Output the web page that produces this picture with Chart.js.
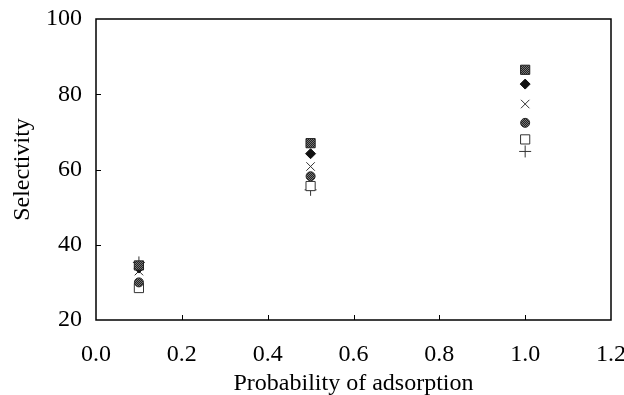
<!DOCTYPE html>
<html>
<head>
<meta charset="utf-8">
<script src="https://cdn.jsdelivr.net/npm/chart.js@4"></script>
<style>
  html, body { margin: 0; padding: 0; background: #fff; }
  #wrap { width: 624px; height: 395px; }
</style>
</head>
<body>
<div id="wrap"><canvas id="chart" width="624" height="395"></canvas></div>
<script>
// Probability of adsorption (x) vs selectivity (y), six marker series.
var xValues = [0.1, 0.5, 1.0];
var filledSquare = [34.5, 67.0, 86.5];
var diamond = [33.8, 64.2, 82.7];
var crossX = [33.0, 60.8, 77.4];
var filledCircle = [30.0, 58.2, 72.4];
var openSquare = [28.5, 55.6, 68.0];
var plusSign = [35.3, 54.6, 64.8];

var xTicks = [0.0, 0.2, 0.4, 0.6, 0.8, 1.0, 1.2];
var yTicks = [20, 40, 60, 80, 100];

var serif = "'Liberation Serif', 'DejaVu Serif', serif";

function pts(ys) {
    return xValues.map(function (x, i) { return { x: x, y: ys[i] }; });
}

// Stippled dark fill, like the scanned markers.
function stipple() {
    var c = document.createElement('canvas');
    c.width = 2; c.height = 2;
    var g = c.getContext('2d');
    g.fillStyle = '#222'; g.fillRect(0, 0, 2, 2);
    g.fillStyle = '#777'; g.fillRect(0, 0, 1, 1); g.fillRect(1, 1, 1, 1);
    return g.createPattern(c, 'repeat');
}
var dots = stipple();

// Frame around the plot area plus inward tick marks.
var frame = {
    id: 'frame',
    afterDraw: function (chart) {
        var ctx = chart.ctx, a = chart.chartArea;
        var xs = chart.scales.x, ys = chart.scales.y;
        ctx.save();
        ctx.strokeStyle = '#000';
        ctx.lineWidth = 1.5;
        ctx.strokeRect(a.left, a.top, a.right - a.left, a.bottom - a.top);
        ctx.lineWidth = 1;
        ctx.beginPath();
        xTicks.slice(1, -1).forEach(function (v) {
            var px = Math.round(xs.getPixelForValue(v)) + 0.5;
            ctx.moveTo(px, a.bottom);
            ctx.lineTo(px, a.bottom - 5);
        });
        yTicks.slice(1, -1).forEach(function (v) {
            var py = Math.round(ys.getPixelForValue(v)) + 0.5;
            ctx.moveTo(a.left, py);
            ctx.lineTo(a.left + 5, py);
        });
        ctx.stroke();
        ctx.restore();
    }
};

var common = { showLine: false, borderWidth: 1 };

new Chart(document.getElementById('chart'), {
    type: 'scatter',
    data: {
        datasets: [
            Object.assign({ data: pts(filledSquare), pointStyle: 'rect', pointRadius: 6.5, backgroundColor: dots, borderColor: '#222' }, common),
            Object.assign({ data: pts(diamond), pointStyle: 'rectRot', pointRadius: 5, backgroundColor: '#111', borderColor: '#111' }, common),
            Object.assign({ data: pts(crossX), pointStyle: 'crossRot', pointRadius: 6, backgroundColor: '#333', borderColor: '#333' }, common),
            Object.assign({ data: pts(filledCircle), pointStyle: 'circle', pointRadius: 4.5, backgroundColor: dots, borderColor: '#222' }, common),
            Object.assign({ data: pts(openSquare), pointStyle: 'rect', pointRadius: 6.5, backgroundColor: '#fff', borderColor: '#333' }, common),
            Object.assign({ data: pts(plusSign), pointStyle: 'cross', pointRadius: 6, backgroundColor: '#333', borderColor: '#333' }, common)
        ]
    },
    options: {
        responsive: false,
        animation: false,
        events: [],
        layout: { autoPadding: false, padding: { top: 19, right: 13, left: 8, bottom: 0 } },
        plugins: { legend: { display: false }, tooltip: { enabled: false } },
        scales: {
            x: {
                type: 'linear',
                min: 0, max: 1.2,
                border: { display: false },
                grid: { display: false, drawTicks: false },
                afterBuildTicks: function (s) { s.ticks = xTicks.map(function (v) { return { value: v }; }); },
                // labels overhang the plot edges, as in the original
                afterFit: function (s) { s.paddingLeft = 0; s.paddingRight = 0; s.height = 75; },
                ticks: {
                    padding: 20,
                    color: '#000',
                    font: { family: serif, size: 24 },
                    callback: function (v) { return Number(v).toFixed(1); }
                },
                title: {
                    display: true,
                    text: 'Probability of adsorption',
                    color: '#000',
                    font: { family: serif, size: 24 },
                    padding: { top: 0, bottom: -3 }
                }
            },
            y: {
                min: 20, max: 100,
                border: { display: false },
                grid: { display: false, drawTicks: false },
                afterBuildTicks: function (s) { s.ticks = yTicks.map(function (v) { return { value: v }; }); },
                afterFit: function (s) { s.paddingTop = 0; s.paddingBottom = 0; s.width = 88; },
                ticks: {
                    padding: 14,
                    color: '#000',
                    font: { family: serif, size: 24 }
                },
                title: {
                    display: true,
                    text: 'Selectivity',
                    color: '#000',
                    font: { family: serif, size: 24 },
                    padding: { top: 0, bottom: 0 }
                }
            }
        }
    },
    plugins: [frame]
});
</script>
</body>
</html>
